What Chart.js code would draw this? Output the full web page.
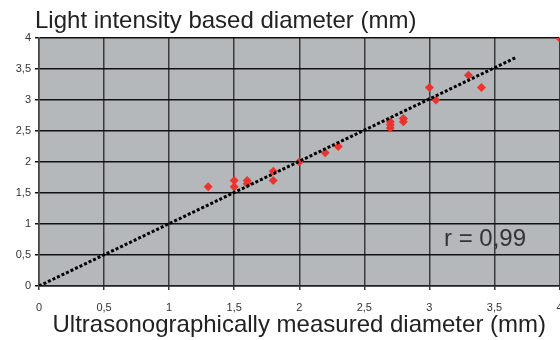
<!DOCTYPE html>
<html lang="en">
<head>
    <meta charset="UTF-8">
    <title>Diameter scatter</title>
    <script src="https://cdn.jsdelivr.net/npm/chart.js"></script>
    <style>
        body { margin: 0; padding: 0; background: #fff; overflow: hidden; }
        /* a bit wider than the window so the last x label gets cut like in the original */
        .chart-container { width: 564px; height: 340px; }
    </style>
</head>
<body>
<div class="chart-container">
    <canvas id="diamChart"></canvas>
</div>
<script>
    // measured points
    const usDiameter = [1.3, 1.5, 1.5, 1.6, 1.6, 1.8, 1.8, 2.0, 2.2, 2.3, 2.7, 2.7, 2.7, 2.8, 2.8, 3.0, 3.05, 3.3, 3.4, 4.0];
    const lightDiameter = [1.6, 1.7, 1.6, 1.7, 1.65, 1.85, 1.7, 2.0, 2.15, 2.25, 2.65, 2.6, 2.55, 2.7, 2.65, 3.2, 3.0, 3.4, 3.2, 4.0];
    // trend line ends
    const trendX = [0, 3.67];
    const trendY = [0, 3.69];
    const tickValues = [0, 0.5, 1, 1.5, 2, 2.5, 3, 3.5, 4];
    const yTitle = 'Light intensity based diameter (mm)';
    const xTitle = 'Ultrasonographically measured diameter (mm)';
    const rText = 'r = 0,99';

    const fmt = v => String(v).replace('.', ',');

    const ctx = document.getElementById('diamChart').getContext('2d');
    new Chart(ctx, {
        type: 'scatter',
        data: {
            datasets: [{
                type: 'line',
                data: trendX.map((x, i) => ({ x: x, y: trendY[i] })),
                borderColor: '#000',
                borderWidth: 3,
                borderDash: [3, 2],
                pointRadius: 0,
                fill: false,
                order: 0
            }, {
                data: usDiameter.map((x, i) => ({ x: x, y: lightDiameter[i] })),
                pointStyle: 'rectRot',
                pointRadius: 4.5,
                backgroundColor: '#e8352f',
                borderColor: '#e8352f',
                borderWidth: 0,
                order: 1
            }]
        },
        options: {
            responsive: true,
            maintainAspectRatio: false,
            animation: false,
            layout: { padding: { top: 38, right: 0, left: 0, bottom: 0 } },
            plugins: {
                legend: { display: false },
                tooltip: { enabled: false }
            },
            scales: {
                x: {
                    type: 'linear',
                    min: 0,
                    max: 4,
                    afterBuildTicks: axis => { axis.ticks = tickValues.map(v => ({ value: v })); },
                    afterFit: axis => {
                        axis.height = 54;
                        axis.paddingLeft = 0;
                        axis.paddingRight = 0;
                    },
                    ticks: {
                        callback: v => fmt(v),
                        color: '#333',
                        font: { family: 'Liberation Sans, Arial', size: 11 },
                        padding: 11,
                        maxRotation: 0
                    },
                    grid: { color: '#3a3a3a', lineWidth: 1.5, tickLength: 4 },
                    border: { color: '#222', width: 1.5 },
                    title: {
                        display: true,
                        text: xTitle,
                        color: '#222',
                        font: { family: 'Liberation Sans, Arial', size: 24 },
                        padding: { top: 0, bottom: 0 }
                    }
                },
                y: {
                    min: 0,
                    max: 4,
                    afterBuildTicks: axis => { axis.ticks = tickValues.map(v => ({ value: v })); },
                    afterFit: axis => { axis.width = 39; },
                    ticks: {
                        callback: v => fmt(v),
                        color: '#333',
                        font: { family: 'Liberation Sans, Arial', size: 11 },
                        padding: 4
                    },
                    grid: { color: '#111', lineWidth: 1.5, tickLength: 4 },
                    border: { color: '#444', width: 1.5 }
                }
            }
        },
        plugins: [{
            id: 'plotBg',
            beforeDraw: (chart) => {
                const a = chart.chartArea;
                const c = chart.ctx;
                c.save();
                c.fillStyle = '#b5b8bb';
                c.fillRect(a.left, a.top, a.right - a.left, a.bottom - a.top);
                c.restore();
            },
            afterDraw: (chart) => {
                const c = chart.ctx;
                c.save();
                c.fillStyle = '#222';
                c.font = '24px "Liberation Sans", Arial';
                c.textBaseline = 'alphabetic';
                c.fillText(yTitle, 35, 28);
                c.fillStyle = '#333';
                c.fillText(rText, 444, 246);
                c.restore();
            }
        }]
    });
</script>
</body>
</html>
